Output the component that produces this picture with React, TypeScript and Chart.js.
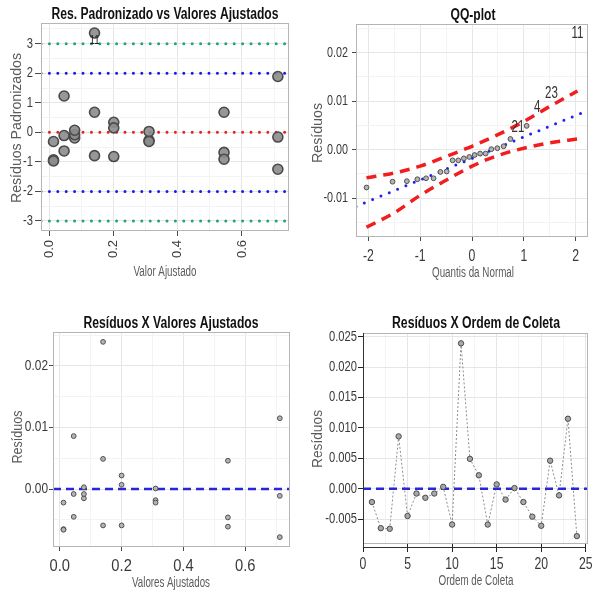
import { useEffect, useRef } from 'react';
import { Chart, registerables } from 'chart.js';

Chart.register(...registerables);

// ---------------- data ----------------
const ordemColeta = [1, 2, 3, 4, 5, 6, 7, 8, 9, 10, 11, 12, 13, 14, 15, 16, 17, 18, 19, 20, 21, 22, 23, 24];
const residuos = [
  -0.0022, -0.0065, -0.0066, 0.0086, -0.0045, -0.0008, -0.0015, -0.0008, 0.0003, -0.0059, 0.0239, 0.0049,
  0.0022, -0.0059, 0.0007, -0.0018, 0.0001, -0.0022, -0.0046, -0.0061, 0.0046, -0.0011, 0.0115, -0.0078,
];
const valoresAjustados = [
  0.012, 0.012, 0.012, 0.045, 0.045, 0.045, 0.078, 0.078, 0.078, 0.14, 0.14, 0.14,
  0.2, 0.2, 0.2, 0.31, 0.31, 0.31, 0.544, 0.544, 0.544, 0.712, 0.712, 0.712,
];
const residuosPadronizados = [
  -0.31, -0.93, -0.97, 1.23, -0.63, -0.11, -0.19, -0.08, 0.07, -0.79, 3.36, 0.68,
  0.34, -0.82, 0.15, -0.27, 0.03, -0.31, -0.68, -0.91, 0.68, -0.16, 1.89, -1.25,
];
const rotulosPadronizados = ['', '', '', '', '', '', '', '', '', '', '11', '', '', '', '', '', '', '', '', '', '', '', '', ''];
const limitesReferencia = [3, 2, 0, -2, -3];
const coresLimites = ['#1fa66a', '#1a1ae6', '#ee1c1c', '#1a1ae6', '#1fa66a'];

const quantisNormal = [
  -2.037, -1.534, -1.258, -1.055, -0.887, -0.742, -0.61, -0.489, -0.374, -0.264, -0.157, -0.052,
  0.052, 0.157, 0.264, 0.374, 0.489, 0.61, 0.742, 0.887, 1.055, 1.258, 1.534, 2.037,
];
const residuosOrdenados = [
  -0.0078, -0.0066, -0.0065, -0.0061, -0.0059, -0.0059, -0.0046, -0.0045, -0.0022, -0.0022, -0.0018, -0.0015,
  -0.0011, -0.0008, -0.0008, 0.0001, 0.0003, 0.0007, 0.0022, 0.0046, 0.0049, 0.0086, 0.0115, 0.0239,
];
const rotulosQQ = ['', '', '', '', '', '', '', '', '', '', '', '', '', '', '', '', '', '', '', '21', '', '4', '23', '11'];
const linhaQQx = [-2.24, 2.24];
const linhaQQy = [-0.0117, 0.0081];
const envelopeX = [-2.037, -1.5, -1, -0.5, 0, 0.5, 1, 1.5, 2.037];
const envelopeSup = [-0.0058, -0.0048, -0.0034, -0.0014, 0.0007, 0.0031, 0.0058, 0.0089, 0.0121];
const envelopeInf = [-0.016, -0.013, -0.0094, -0.0063, -0.0034, -0.0012, 0.0003, 0.0014, 0.0022];

// tick lists
const p1xMajor = [0, 0.2, 0.4, 0.6];
const p1xMinor = [0.1, 0.3, 0.5, 0.7];
const p1yMajor = [-3, -2, -1, 0, 1, 2, 3];
const p1yMinor = [-2.5, -1.5, -0.5, 0.5, 1.5, 2.5, 3.5];
const p2xMajor = [-2, -1, 0, 1, 2];
const p2xMinor = [-1.5, -0.5, 0.5, 1.5];
const p2yMajor = [-0.01, 0, 0.01, 0.02];
const p2yMinor = [-0.015, -0.005, 0.005, 0.015, 0.025];
const p3xMajor = [0, 0.2, 0.4, 0.6];
const p3xMinor = [0.1, 0.3, 0.5, 0.7];
const p3yMajor = [0, 0.01, 0.02];
const p3yMinor = [-0.005, 0.005, 0.015, 0.025];
const p4xMajor = [0, 5, 10, 15, 20, 25];
const p4xMinor = [2.5, 7.5, 12.5, 17.5, 22.5];
const p4yMajor = [-0.005, 0, 0.005, 0.01, 0.015, 0.02, 0.025];
const p4yMinor: number[] = [];

// ---------------- helpers ----------------
const SANS = "'Liberation Sans', Arial, sans-serif";

type AxisCfg = {
  min: number;
  max: number;
  major: number[];
  minor: number[];
  decimals: number;
  size: number;
  tickLength: number;
  tickMarkColor?: string;
  // label drawing
  fontSize: number;
  squeeze: number;
  gap: number; // distance from chart edge to label edge (y) or label center (x) / label end (rotated)
  rotate?: boolean;
};

function isMajorOf(list: number[], v: number) {
  return list.some((m) => Math.abs(m - v) < 1e-9);
}

function buildScale(c: AxisCfg, horizontal: boolean) {
  const all = [...c.major, ...c.minor]
    .filter((v) => v >= c.min - 1e-12 && v <= c.max + 1e-12)
    .sort((a, b) => a - b);
  const isMajor = (v: number) => isMajorOf(c.major, v);
  return {
    type: 'linear',
    position: horizontal ? 'bottom' : 'left',
    min: c.min,
    max: c.max,
    afterBuildTicks: (s: any) => {
      s.ticks = all.map((v) => ({ value: v }));
    },
    afterFit: (s: any) => {
      if (horizontal) s.height = c.size;
      else s.width = c.size;
      s.paddingLeft = 0;
      s.paddingRight = 0;
      s.paddingTop = 0;
      s.paddingBottom = 0;
    },
    ticks: {
      display: false,
      autoSkip: false,
      callback: (v: any) => (isMajor(Number(v)) ? Number(v).toFixed(c.decimals) : ''),
    },
    grid: {
      color: (ctx: any) => (ctx.tick && isMajor(ctx.tick.value) ? '#e6e6e6' : '#f3f3f3'),
      lineWidth: 1,
      drawTicks: true,
      tickLength: c.tickLength,
      tickColor: (ctx: any) =>
        ctx.tick && isMajor(ctx.tick.value) ? c.tickMarkColor || '#4a4a4a' : 'rgba(0,0,0,0)',
      tickWidth: 1,
    },
    border: { display: false },
    title: { display: false },
  };
}

type TextItem = { text: string; x: number; y: number; font: string; color: string; maxWidth: number; rot?: number };

function drawSqueezed(ctx: CanvasRenderingContext2D, text: string, x: number, y: number, sx: number, align: CanvasTextAlign, rot = 0) {
  ctx.save();
  ctx.translate(x, y);
  if (rot) ctx.rotate(rot);
  ctx.scale(sx, 1);
  ctx.textAlign = align;
  ctx.fillText(text, 0, 0);
  ctx.restore();
}

const panelPlugin = {
  id: 'panelDecor',
  afterDraw(chart: any, _args: any, opts: any) {
    const ctx = chart.ctx as CanvasRenderingContext2D;
    const a = chart.chartArea;
    // panel border
    ctx.save();
    ctx.strokeStyle = opts.borderColor || '#b5b5b5';
    ctx.lineWidth = 1;
    ctx.strokeRect(Math.round(a.left) + 0.5, Math.round(a.top) + 0.5, Math.round(a.right - a.left) - 1, Math.round(a.bottom - a.top) - 1);
    if (opts.baseAxes) {
      const xs = chart.scales.x;
      ctx.strokeStyle = '#333';
      ctx.beginPath();
      ctx.moveTo(Math.round(a.left) + 0.5, a.top);
      ctx.lineTo(Math.round(a.left) + 0.5, a.bottom + 3);
      ctx.moveTo(xs.getPixelForValue(opts.baseAxes[0]), Math.round(a.bottom) + 3.5);
      ctx.lineTo(xs.getPixelForValue(opts.baseAxes[1]), Math.round(a.bottom) + 3.5);
      ctx.stroke();
    }
    ctx.restore();

    // tick labels
    const axes: Array<[string, AxisCfg]> = [
      ['x', opts.xAxis],
      ['y', opts.yAxis],
    ];
    axes.forEach(([id, c]) => {
      if (!c) return;
      const sc = chart.scales[id];
      ctx.save();
      ctx.fillStyle = '#3a3a3a';
      ctx.font = `${c.fontSize}px ${SANS}`;
      ctx.textBaseline = 'middle';
      c.major.forEach((v) => {
        if (v < c.min - 1e-12 || v > c.max + 1e-12) return;
        const label = v.toFixed(c.decimals);
        const p = sc.getPixelForValue(v);
        if (id === 'y') {
          drawSqueezed(ctx, label, a.left - c.gap, p, c.squeeze, 'right');
        } else if (c.rotate) {
          drawSqueezed(ctx, label, p, a.bottom + c.gap, c.squeeze, 'right', -Math.PI / 2);
        } else {
          drawSqueezed(ctx, label, p, a.bottom + c.gap, c.squeeze, 'center');
        }
      });
      ctx.restore();
    });

    // point labels
    if (opts.labels) {
      const meta = chart.getDatasetMeta(0);
      ctx.save();
      ctx.font = opts.labels.font;
      ctx.fillStyle = opts.labels.color;
      ctx.textBaseline = 'middle';
      opts.labels.texts.forEach((t: string, i: number) => {
        if (!t) return;
        const el = meta.data[i];
        drawSqueezed(ctx, t, el.x, el.y + (opts.labels.dy || 0), opts.labels.squeeze, 'center');
      });
      ctx.restore();
    }
    // texts
    (opts.texts || []).forEach((t: TextItem) => {
      ctx.save();
      ctx.font = t.font;
      ctx.fillStyle = t.color;
      ctx.textAlign = 'center';
      ctx.textBaseline = 'middle';
      ctx.translate(t.x, t.y);
      if (t.rot) ctx.rotate(t.rot);
      ctx.fillText(t.text, 0, 0, t.maxWidth);
      ctx.restore();
    });
  },
};

function hLine(y: number, x0: number, x1: number, color: string, width: number, dash: number[], cap: string) {
  return {
    data: [
      { x: x0, y },
      { x: x1, y },
    ],
    showLine: true,
    pointRadius: 0,
    borderColor: color,
    borderWidth: width,
    borderDash: dash,
    borderCapStyle: cap,
    fill: false,
  };
}

function baseOptions(padding: any, xc: AxisCfg, yc: AxisCfg, decor: any) {
  return {
    responsive: false,
    maintainAspectRatio: false,
    animation: false,
    devicePixelRatio: 1,
    layout: { padding },
    scales: { x: buildScale(xc, true), y: buildScale(yc, false) },
    plugins: {
      legend: { display: false },
      tooltip: { enabled: false },
      title: { display: false },
      panelDecor: { ...decor, xAxis: xc, yAxis: yc },
    },
    events: [],
  };
}

const TITLE_FONT = `bold 16px ${SANS}`;
const YT_FONT = `15px ${SANS}`;
const XT_FONT = `14px ${SANS}`;
const AX_COLOR = '#5c5c5c';

function config1() {
  const xMin = -0.027, xMax = 0.748, yMin = -3.34, yMax = 3.7;
  const datasets: any[] = [
    {
      data: valoresAjustados.map((x, i) => ({ x, y: residuosPadronizados[i] })),
      pointRadius: 5,
      pointBackgroundColor: 'rgba(140,140,140,0.9)',
      pointBorderColor: '#4a4a4a',
      pointBorderWidth: 1.6,
      showLine: false,
    },
    ...limitesReferencia.map((v, i) => hLine(v, xMin, xMax, coresLimites[i], 3, [0, 8.4], 'round')),
  ];
  return {
    type: 'scatter',
    data: { datasets },
    options: baseOptions(
      { top: 23, right: 6, left: 0, bottom: 0 },
      { min: xMin, max: xMax, major: p1xMajor, minor: p1xMinor, decimals: 1, size: 64, tickLength: 5, fontSize: 13, squeeze: 1, gap: 9, rotate: true },
      { min: yMin, max: yMax, major: p1yMajor, minor: p1yMinor, decimals: 0, size: 41, tickLength: 6, fontSize: 14, squeeze: 0.8, gap: 8 },
      {
        labels: { texts: rotulosPadronizados, font: `13px ${SANS}`, color: '#222', dy: 7, squeeze: 0.75 },
        texts: [
          { text: 'Res. Padronizado vs Valores Ajustados', x: 165, y: 15, font: TITLE_FONT, color: '#111', maxWidth: 227 },
          { text: 'Resíduos Padronizados', x: 17, y: 128, font: YT_FONT, color: AX_COLOR, maxWidth: 150, rot: -Math.PI / 2 },
          { text: 'Valor Ajustado', x: 165, y: 272, font: XT_FONT, color: AX_COLOR, maxWidth: 63 },
        ],
      }
    ),
  };
}

function config2() {
  const xMin = -2.24, xMax = 2.24, yMin = -0.018, yMax = 0.0259;
  const datasets: any[] = [
    {
      data: quantisNormal.map((x, i) => ({ x, y: residuosOrdenados[i] })),
      pointRadius: (ctx: any) => (rotulosQQ[ctx.dataIndex] ? 0 : 2.4),
      pointBackgroundColor: '#b4b4b4',
      pointBorderColor: '#4f4f4f',
      pointBorderWidth: 1,
      showLine: false,
    },
    {
      data: linhaQQx.map((x, i) => ({ x, y: linhaQQy[i] })),
      showLine: true,
      pointRadius: 0,
      borderColor: '#2020f0',
      borderWidth: 3,
      borderDash: [0, 9],
      borderCapStyle: 'round',
    },
    {
      data: envelopeX.map((x, i) => ({ x, y: envelopeSup[i] })),
      showLine: true,
      pointRadius: 0,
      borderColor: '#f01e1e',
      borderWidth: 3.5,
      borderDash: [10, 7],
      cubicInterpolationMode: 'monotone',
    },
    {
      data: envelopeX.map((x, i) => ({ x, y: envelopeInf[i] })),
      showLine: true,
      pointRadius: 0,
      borderColor: '#f01e1e',
      borderWidth: 3.5,
      borderDash: [10, 7],
      cubicInterpolationMode: 'monotone',
    },
  ];
  return {
    type: 'scatter',
    data: { datasets },
    options: baseOptions(
      { top: 24, right: 3, left: 0, bottom: 0 },
      { min: xMin, max: xMax, major: p2xMajor, minor: p2xMinor, decimals: 0, size: 58, tickLength: 4, fontSize: 17, squeeze: 0.72, gap: 19 },
      { min: yMin, max: yMax, major: p2yMajor, minor: p2yMinor, decimals: 2, size: 60, tickLength: 4, fontSize: 15, squeeze: 0.72, gap: 8 },
      {
        labels: { texts: rotulosQQ, font: `16px ${SANS}`, color: '#333', dy: 0, squeeze: 0.72 },
        texts: [
          { text: 'QQ-plot', x: 177, y: 16, font: TITLE_FONT, color: '#111', maxWidth: 45 },
          { text: 'Resíduos', x: 22, y: 133, font: YT_FONT, color: AX_COLOR, maxWidth: 60, rot: -Math.PI / 2 },
          { text: 'Quantis da Normal', x: 177, y: 273, font: XT_FONT, color: AX_COLOR, maxWidth: 82 },
        ],
      }
    ),
  };
}

function config3() {
  const xMin = -0.022, xMax = 0.745, yMin = -0.0094, yMax = 0.0255;
  const datasets: any[] = [
    {
      data: valoresAjustados.map((x, i) => ({ x, y: residuos[i] })),
      pointRadius: 2.4,
      pointBackgroundColor: '#b4b4b4',
      pointBorderColor: '#4f4f4f',
      pointBorderWidth: 1,
      showLine: false,
    },
    hLine(0, xMin, xMax, '#2727d8', 2.5, [8, 5], 'butt'),
  ];
  return {
    type: 'scatter',
    data: { datasets },
    options: baseOptions(
      { top: 36, right: 6, left: 0, bottom: 0 },
      { min: xMin, max: xMax, major: p3xMajor, minor: p3xMinor, decimals: 1, size: 43, tickLength: 4, fontSize: 16, squeeze: 0.92, gap: 20 },
      { min: yMin, max: yMax, major: p3yMajor, minor: p3yMinor, decimals: 2, size: 53, tickLength: 4, fontSize: 14, squeeze: 0.85, gap: 5 },
      {
        texts: [
          { text: 'Resíduos X Valores Ajustados', x: 171, y: 28, font: TITLE_FONT, color: '#111', maxWidth: 175 },
          { text: 'Resíduos', x: 18, y: 141, font: YT_FONT, color: AX_COLOR, maxWidth: 53, rot: -Math.PI / 2 },
          { text: 'Valores Ajustados', x: 171, y: 287, font: XT_FONT, color: AX_COLOR, maxWidth: 78 },
        ],
      }
    ),
  };
}

function config4() {
  const xMin = 0, xMax = 25.25, yMin = -0.0091, yMax = 0.0256;
  const datasets: any[] = [
    {
      data: ordemColeta.map((x, i) => ({ x, y: residuos[i] })),
      pointRadius: 2.7,
      pointBackgroundColor: '#a8a8a8',
      pointBorderColor: '#4a4a4a',
      pointBorderWidth: 1,
      showLine: false,
    },
    hLine(0, xMin, xMax, '#2727d8', 2.5, [8, 5], 'butt'),
    {
      data: ordemColeta.map((x, i) => ({ x, y: residuos[i] })),
      showLine: true,
      pointRadius: 0,
      borderColor: '#8c8c8c',
      borderWidth: 1,
      borderDash: [2, 2],
    },
  ];
  return {
    type: 'scatter',
    data: { datasets },
    options: baseOptions(
      { top: 37, right: 3, left: 0, bottom: 0 },
      { min: xMin, max: xMax, major: p4xMajor, minor: p4xMinor, decimals: 0, size: 46, tickLength: 8, tickMarkColor: '#222', fontSize: 17, squeeze: 0.72, gap: 20 },
      { min: yMin, max: yMax, major: p4yMajor, minor: p4yMinor, decimals: 3, size: 67, tickLength: 5, tickMarkColor: '#222', fontSize: 14, squeeze: 0.8, gap: 6 },
      {
        baseAxes: [0, 25],
        texts: [
          { text: 'Resíduos X Ordem de Coleta', x: 180, y: 28, font: TITLE_FONT, color: '#111', maxWidth: 168 },
          { text: 'Resíduos', x: 22, y: 143, font: YT_FONT, color: AX_COLOR, maxWidth: 58, rot: -Math.PI / 2 },
          { text: 'Ordem de Coleta', x: 180, y: 285, font: XT_FONT, color: AX_COLOR, maxWidth: 75 },
        ],
      }
    ),
  };
}

function Panel({ left, top, width, height, make }: { left: number; top: number; width: number; height: number; make: () => any }) {
  const ref = useRef<HTMLCanvasElement | null>(null);
  useEffect(() => {
    if (!ref.current) return;
    const cfg = make();
    cfg.plugins = [panelPlugin];
    const chart = new Chart(ref.current, cfg);
    return () => chart.destroy();
  }, [make]);
  return (
    <canvas
      ref={ref}
      width={width}
      height={height}
      style={{ position: 'absolute', left, top, width, height, display: 'block' }}
    />
  );
}

export default function App() {
  return (
    <div style={{ position: 'absolute', left: 0, top: 0, width: 593, height: 590, background: '#fff', overflow: 'hidden' }}>
      <Panel left={0} top={0} width={296} height={295} make={config1} />
      <Panel left={296} top={0} width={297} height={295} make={config2} />
      <Panel left={0} top={296} width={296} height={294} make={config3} />
      <Panel left={296} top={296} width={297} height={294} make={config4} />
    </div>
  );
}
